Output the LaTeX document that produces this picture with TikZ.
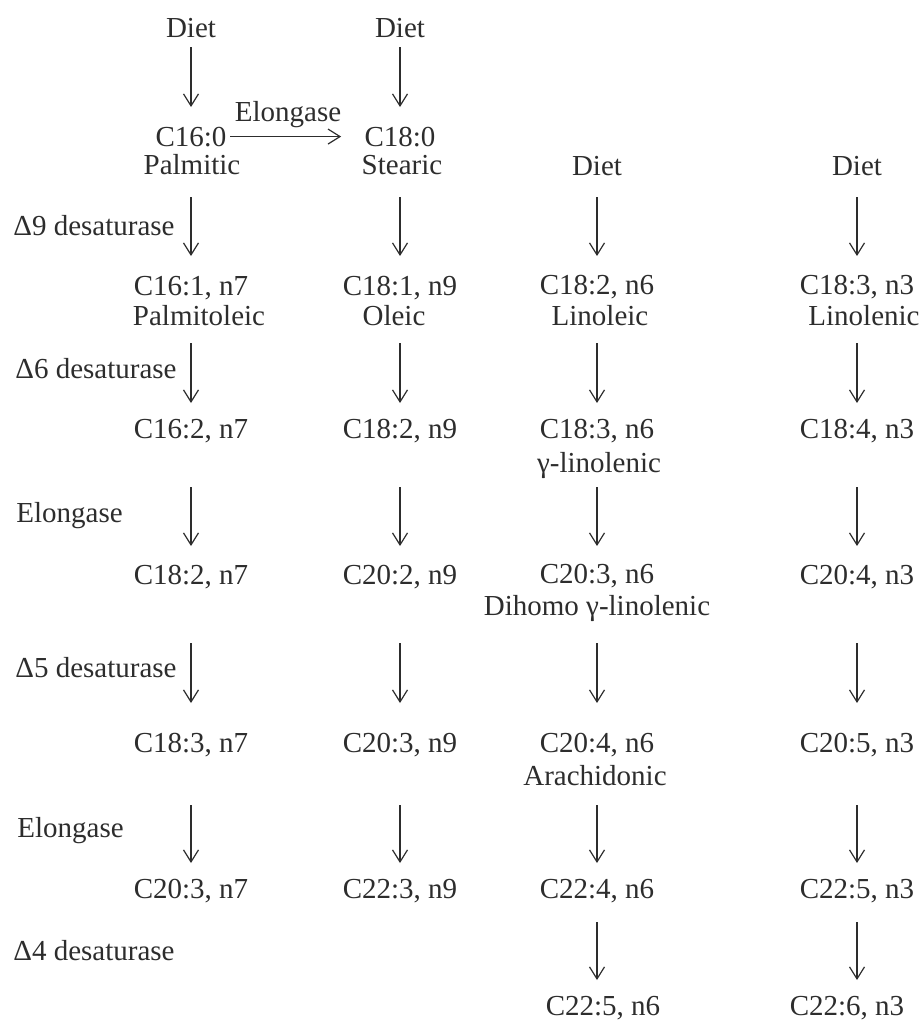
\documentclass[tikz,border=0pt]{standalone}
\usepackage{fontspec}
\setmainfont{Liberation Serif}
\usetikzlibrary{arrows.meta}
\definecolor{ink}{RGB}{45,45,45}

\begin{document}
\begin{tikzpicture}[x=0.5pt,y=-0.5pt,
  >={Straight Barb[length=6pt,width=7.5pt]},
  fa/.style={inner sep=0pt,anchor=base,text=ink,font=\fontsize{14.5}{17}\selectfont},
  enz/.style={fa,anchor=base west},
  arr/.style={->,draw=ink,line width=0.6pt}]
\useasboundingbox (0,0) rectangle (924,1023);
%arrow rows
\coordinate (t0) at (0,47);  \coordinate (b0) at (0,107);
\coordinate (t1) at (0,197); \coordinate (b1) at (0,256);
\coordinate (t2) at (0,343); \coordinate (b2) at (0,403);
\coordinate (t3) at (0,487); \coordinate (b3) at (0,546);
\coordinate (t4) at (0,643); \coordinate (b4) at (0,703);
\coordinate (t5) at (0,805); \coordinate (b5) at (0,863);
\coordinate (t6) at (0,922); \coordinate (b6) at (0,980);
%enzymes
\node[enz] (d9)   at (13,235) {Δ9 desaturase};
\node[enz] (d6)   at (15,378) {Δ6 desaturase};
\node[enz] (el1)  at (16,522) {Elongase};
\node[enz] (d5)   at (15,677) {Δ5 desaturase};
\node[enz] (el2)  at (17,837) {Elongase};
\node[enz] (d4)   at (13,960) {Δ4 desaturase};
%n7 column
\node[fa] (diet1) at (191,37)  {Diet};
\node[fa] (c160)  at (191,146) {C16:0};
\node[fa] (palm)  at (192,174) {Palmitic};
\node[fa] (c161)  at (191,295) {C16:1, n7};
\node[fa] (pole)  at (199,325) {Palmitoleic};
\node[fa] (c162)  at (191,438) {C16:2, n7};
\node[fa] (c182a) at (191,584) {C18:2, n7};
\node[fa] (c183a) at (191,752) {C18:3, n7};
\node[fa] (c203a) at (191,898) {C20:3, n7};
%n9 column
\node[fa] (diet2) at (400,37)  {Diet};
\node[fa] (c180)  at (400,146) {C18:0};
\node[fa] (stea)  at (402,174) {Stearic};
\node[fa] (c181)  at (400,295) {C18:1, n9};
\node[fa] (olei)  at (394,325) {Oleic};
\node[fa] (c182b) at (400,438) {C18:2, n9};
\node[fa] (c202)  at (400,584) {C20:2, n9};
\node[fa] (c203b) at (400,752) {C20:3, n9};
\node[fa] (c223)  at (400,898) {C22:3, n9};
%n6 column
\node[fa] (diet3) at (597,175) {Diet};
\node[fa] (c182c) at (597,294) {C18:2, n6};
\node[fa] (lino)  at (600,325) {Linoleic};
\node[fa] (c183c) at (597,438) {C18:3, n6};
\node[fa] (glin)  at (599,472) {γ-linolenic};
\node[fa] (c203c) at (597,583) {C20:3, n6};
\node[fa] (dgl)   at (597,615) {Dihomo γ-linolenic};
\node[fa] (c204c) at (597,752) {C20:4, n6};
\node[fa] (arac)  at (595,785) {Arachidonic};
\node[fa] (c224)  at (597,898) {C22:4, n6};
\node[fa] (c225c) at (603,1015) {C22:5, n6};
%n3 column
\node[fa] (diet4) at (857,175) {Diet};
\node[fa] (c183d) at (857,294) {C18:3, n3};
\node[fa] (lnln)  at (864,325) {Linolenic};
\node[fa] (c184)  at (857,438) {C18:4, n3};
\node[fa] (c204d) at (857,584) {C20:4, n3};
\node[fa] (c205)  at (857,752) {C20:5, n3};
\node[fa] (c225d) at (857,898) {C22:5, n3};
\node[fa] (c226)  at (847,1015) {C22:6, n3};
%elongation of palmitic
\node[fa] (elo) at (288,121) {Elongase};
\draw[arr,shorten <=1.75pt,shorten >=11.5pt] (c160.east) -- (c180.west);
%arrows
\draw[arr] (diet1 |- t0) -- (c160 |- b0);
\draw[arr] (diet2 |- t0) -- (c180 |- b0);
\draw[arr] (c160 |- t1) -- (c161 |- b1);
\draw[arr] (c180 |- t1) -- (c181 |- b1);
\draw[arr] (diet3 |- t1) -- (c182c |- b1);
\draw[arr] (diet4 |- t1) -- (c183d |- b1);
\draw[arr] (c161 |- t2) -- (c162 |- b2);
\draw[arr] (c181 |- t2) -- (c182b |- b2);
\draw[arr] (c182c |- t2) -- (c183c |- b2);
\draw[arr] (c183d |- t2) -- (c184 |- b2);
\draw[arr] (c162 |- t3) -- (c182a |- b3);
\draw[arr] (c182b |- t3) -- (c202 |- b3);
\draw[arr] (c183c |- t3) -- (c203c |- b3);
\draw[arr] (c184 |- t3) -- (c204d |- b3);
\draw[arr] (c182a |- t4) -- (c183a |- b4);
\draw[arr] (c202 |- t4) -- (c203b |- b4);
\draw[arr] (c203c |- t4) -- (c204c |- b4);
\draw[arr] (c204d |- t4) -- (c205 |- b4);
\draw[arr] (c183a |- t5) -- (c203a |- b5);
\draw[arr] (c203b |- t5) -- (c223 |- b5);
\draw[arr] (c204c |- t5) -- (c224 |- b5);
\draw[arr] (c205 |- t5) -- (c225d |- b5);
\draw[arr] (c224 |- t6) -- (c224 |- b6);
\draw[arr] (c225d |- t6) -- (c225d |- b6);
\end{tikzpicture}
\end{document}
